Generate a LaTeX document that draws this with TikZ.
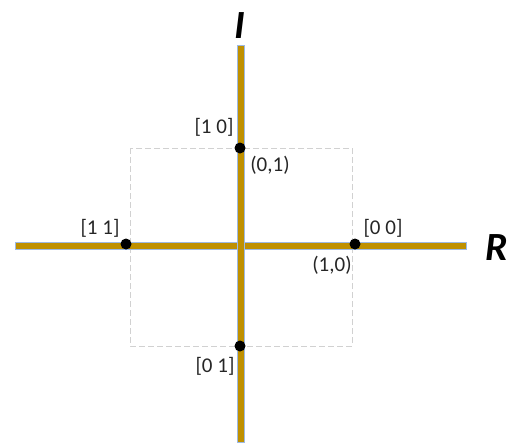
\documentclass[tikz,border=0pt]{standalone}
\usepackage{fontspec}
\setmainfont{Carlito}
\usetikzlibrary{positioning}
\definecolor{axisgold}{HTML}{BF9000}
\definecolor{axisblue}{HTML}{9DB9E3}

\begin{document}
\begin{tikzpicture}[x=1pt,y=-1pt,
  axisbar/.style={fill=axisgold,draw=axisblue,line width=0.6pt},
  pt/.style={circle,fill=black,inner sep=0pt,minimum size=11pt},
  lbl/.style={font=\fontsize{21}{21}\selectfont,inner sep=0pt,text=black!85},
  axlbl/.style={font=\fontsize{40}{40}\selectfont\bfseries\itshape,inner sep=0pt}]
\useasboundingbox (0,0) rectangle (510,442);
\draw[black!18,dash pattern=on 6pt off 3pt,line width=0.8pt] (130,148) rectangle (352,346);
% axes
\draw[axisbar] (15,242) rectangle (466,249);
\draw[axisbar] (237,45) rectangle (244,442);
% points
\node[pt] (p10) at (240,148) {};
\node[pt] (p11) at (126,244) {};
\node[pt] (p00) at (355,244) {};
\node[pt] (p01) at (240,346) {};
% labels
\node[lbl] (l10) at (214,127) {[1 0]};
\node[lbl] (c01) at (270,165) {(0,1)};
\node[lbl] (l11) at (100,228) {[1 1]};
\node[lbl] (l00) at (383,228) {[0 0]};
\node[lbl] (c10) at (332,265) {(1,0)};
\node[lbl] (l01) at (215,366) {[0 1]};
\node[axlbl] (imag) at (240,26) {I};
\node[axlbl,anchor=east] (real) at (508,248) {R};
\end{tikzpicture}
\end{document}
